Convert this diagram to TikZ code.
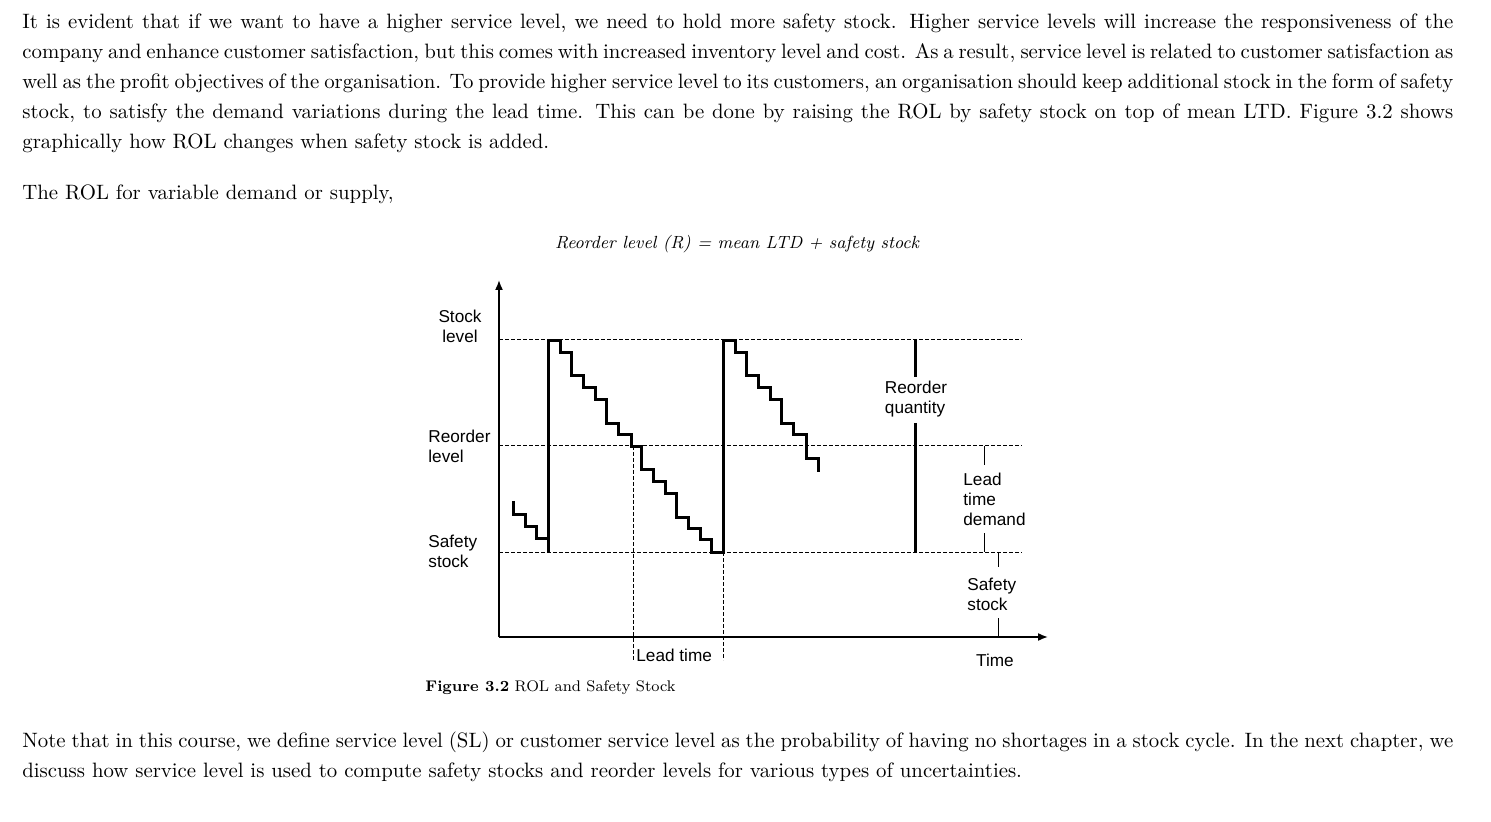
\documentclass[tikz,border=0pt]{standalone}
\usepackage{fontspec}
\newfontfamily\sans{Liberation Sans}
\begin{document}
\begin{tikzpicture}[x=0.5pt,y=-0.5pt,
  para/.style={anchor=north west,inner sep=0pt,text width=715.5pt,align=justify,font=\fontsize{10.4}{15}\selectfont},
  lbl/.style={inner sep=0pt,font=\sans\fontsize{8.6}{10}\selectfont,align=left},
  dsh/.style={dash pattern=on 2pt off 1pt,line width=0.5pt},
  stair/.style={line width=1.5pt,line join=miter},
  axis/.style={line width=0.8pt,-{Latex[length=5pt,width=4pt]}}]
\useasboundingbox (0,0) rectangle (1491,822);
\usetikzlibrary{arrows.meta}
\node[para] (p1) at (22,13) {It is evident that if we want to have a higher service level, we need to hold more safety stock. Higher service levels will increase the responsiveness of the\linebreak company and enhance customer satisfaction, but this comes with increased inventory level and cost. As a result, service level is related to customer satisfaction as\linebreak well as the profit objectives of the organisation. To provide higher service level to its customers, an organisation should keep additional stock in the form of safety\linebreak stock, to satisfy the demand variations during the lead time. This can be done by raising the ROL by safety stock on top of mean LTD. Figure 3.2 shows\linebreak graphically how ROL changes when safety stock is added.};
\node[para] (p2) at (22,184) {The ROL for variable demand or supply,};
\node[inner sep=0pt,font=\fontsize{8.8}{12}\selectfont\itshape] (f) at (737,244) {Reorder level (R) = mean LTD + safety stock};
% axes
\coordinate (o) at (499,637);
\coordinate (ytop) at (499,280);
\coordinate (xend) at (1048,637);
\draw[axis] (o) -- (ytop);
\draw[axis] (o) -- (xend);
% dashed levels
\draw[dsh] (499,340) -- (1022,340);
\draw[dsh] (499,446) -- (1022,446);
\draw[dsh] (499,552) -- (1022,552);
\draw[dsh] (633,446) -- (633,660);
\draw[dsh] (723,552) -- (723,660);
% staircase
\begin{scope}[shift={(420,270)},scale=1/3]
\draw[stair] (280,693)--(280,735)--(315,735)--(315,770)--(350,770)--(350,805)--(385,805)--(385,848)--(385,212)--(420,212)--(420,248)--(455,248)--(455,318)--(490,318)--(490,353)--(525,353)--(525,388)--(560,388)--(560,460)--(595,460)--(595,495)--(635,495)--(635,530)--(665,530)--(665,600)--(700,600)--(700,635)--(735,635)--(735,670)--(770,670)--(770,742)--(805,742)--(805,775)--(840,775)--(840,810)--(875,810)--(875,848)--(910,848)--(910,212)--(945,212)--(945,248)--(980,248)--(980,318)--(1015,318)--(1015,353)--(1050,353)--(1050,388)--(1085,388)--(1085,460)--(1120,460)--(1120,495)--(1160,495)--(1160,565)--(1195,565)--(1195,605);
\end{scope}
% reorder quantity
\draw[line width=1.5pt] (915,340) -- (915,377);
\draw[line width=1.5pt] (915,423) -- (915,552);
\node[lbl] (rq) at (916,399) {Reorder\\quantity};
% lead time demand
\draw[line width=0.5pt] (984,446) -- (984,465);
\draw[line width=0.5pt] (984,533) -- (984,552);
\node[lbl,anchor=west] (ltd) at (963,499) {Lead\\time\\demand};
\draw[line width=0.5pt] (998,552) -- (998,567);
\draw[line width=0.5pt] (998,618) -- (998,637);
\node[lbl,anchor=west] (ss2) at (967,594) {Safety\\stock};
\node[lbl] (time) at (995,660) {Time};
\node[lbl,anchor=west] (lt) at (636,655) {Lead time};
\node[lbl,align=center] (sl) at (460,326) {Stock\\level};
\node[lbl,anchor=west] (rl) at (428,446) {Reorder\\level};
\node[lbl,anchor=west] (ssl) at (428,551) {Safety\\stock};
\node[anchor=west,inner sep=0pt,font=\fontsize{7.7}{10}\selectfont] (cap) at (425,688) {\textbf{Figure 3.2} ROL and Safety Stock};
\node[para] (p3) at (22,731) {Note that in this course, we define service level (SL) or customer service level as the probability of having no shortages in a stock cycle. In the next chapter, we\linebreak discuss how service level is used to compute safety stocks and reorder levels for various types of uncertainties.};
\end{tikzpicture}
\end{document}
